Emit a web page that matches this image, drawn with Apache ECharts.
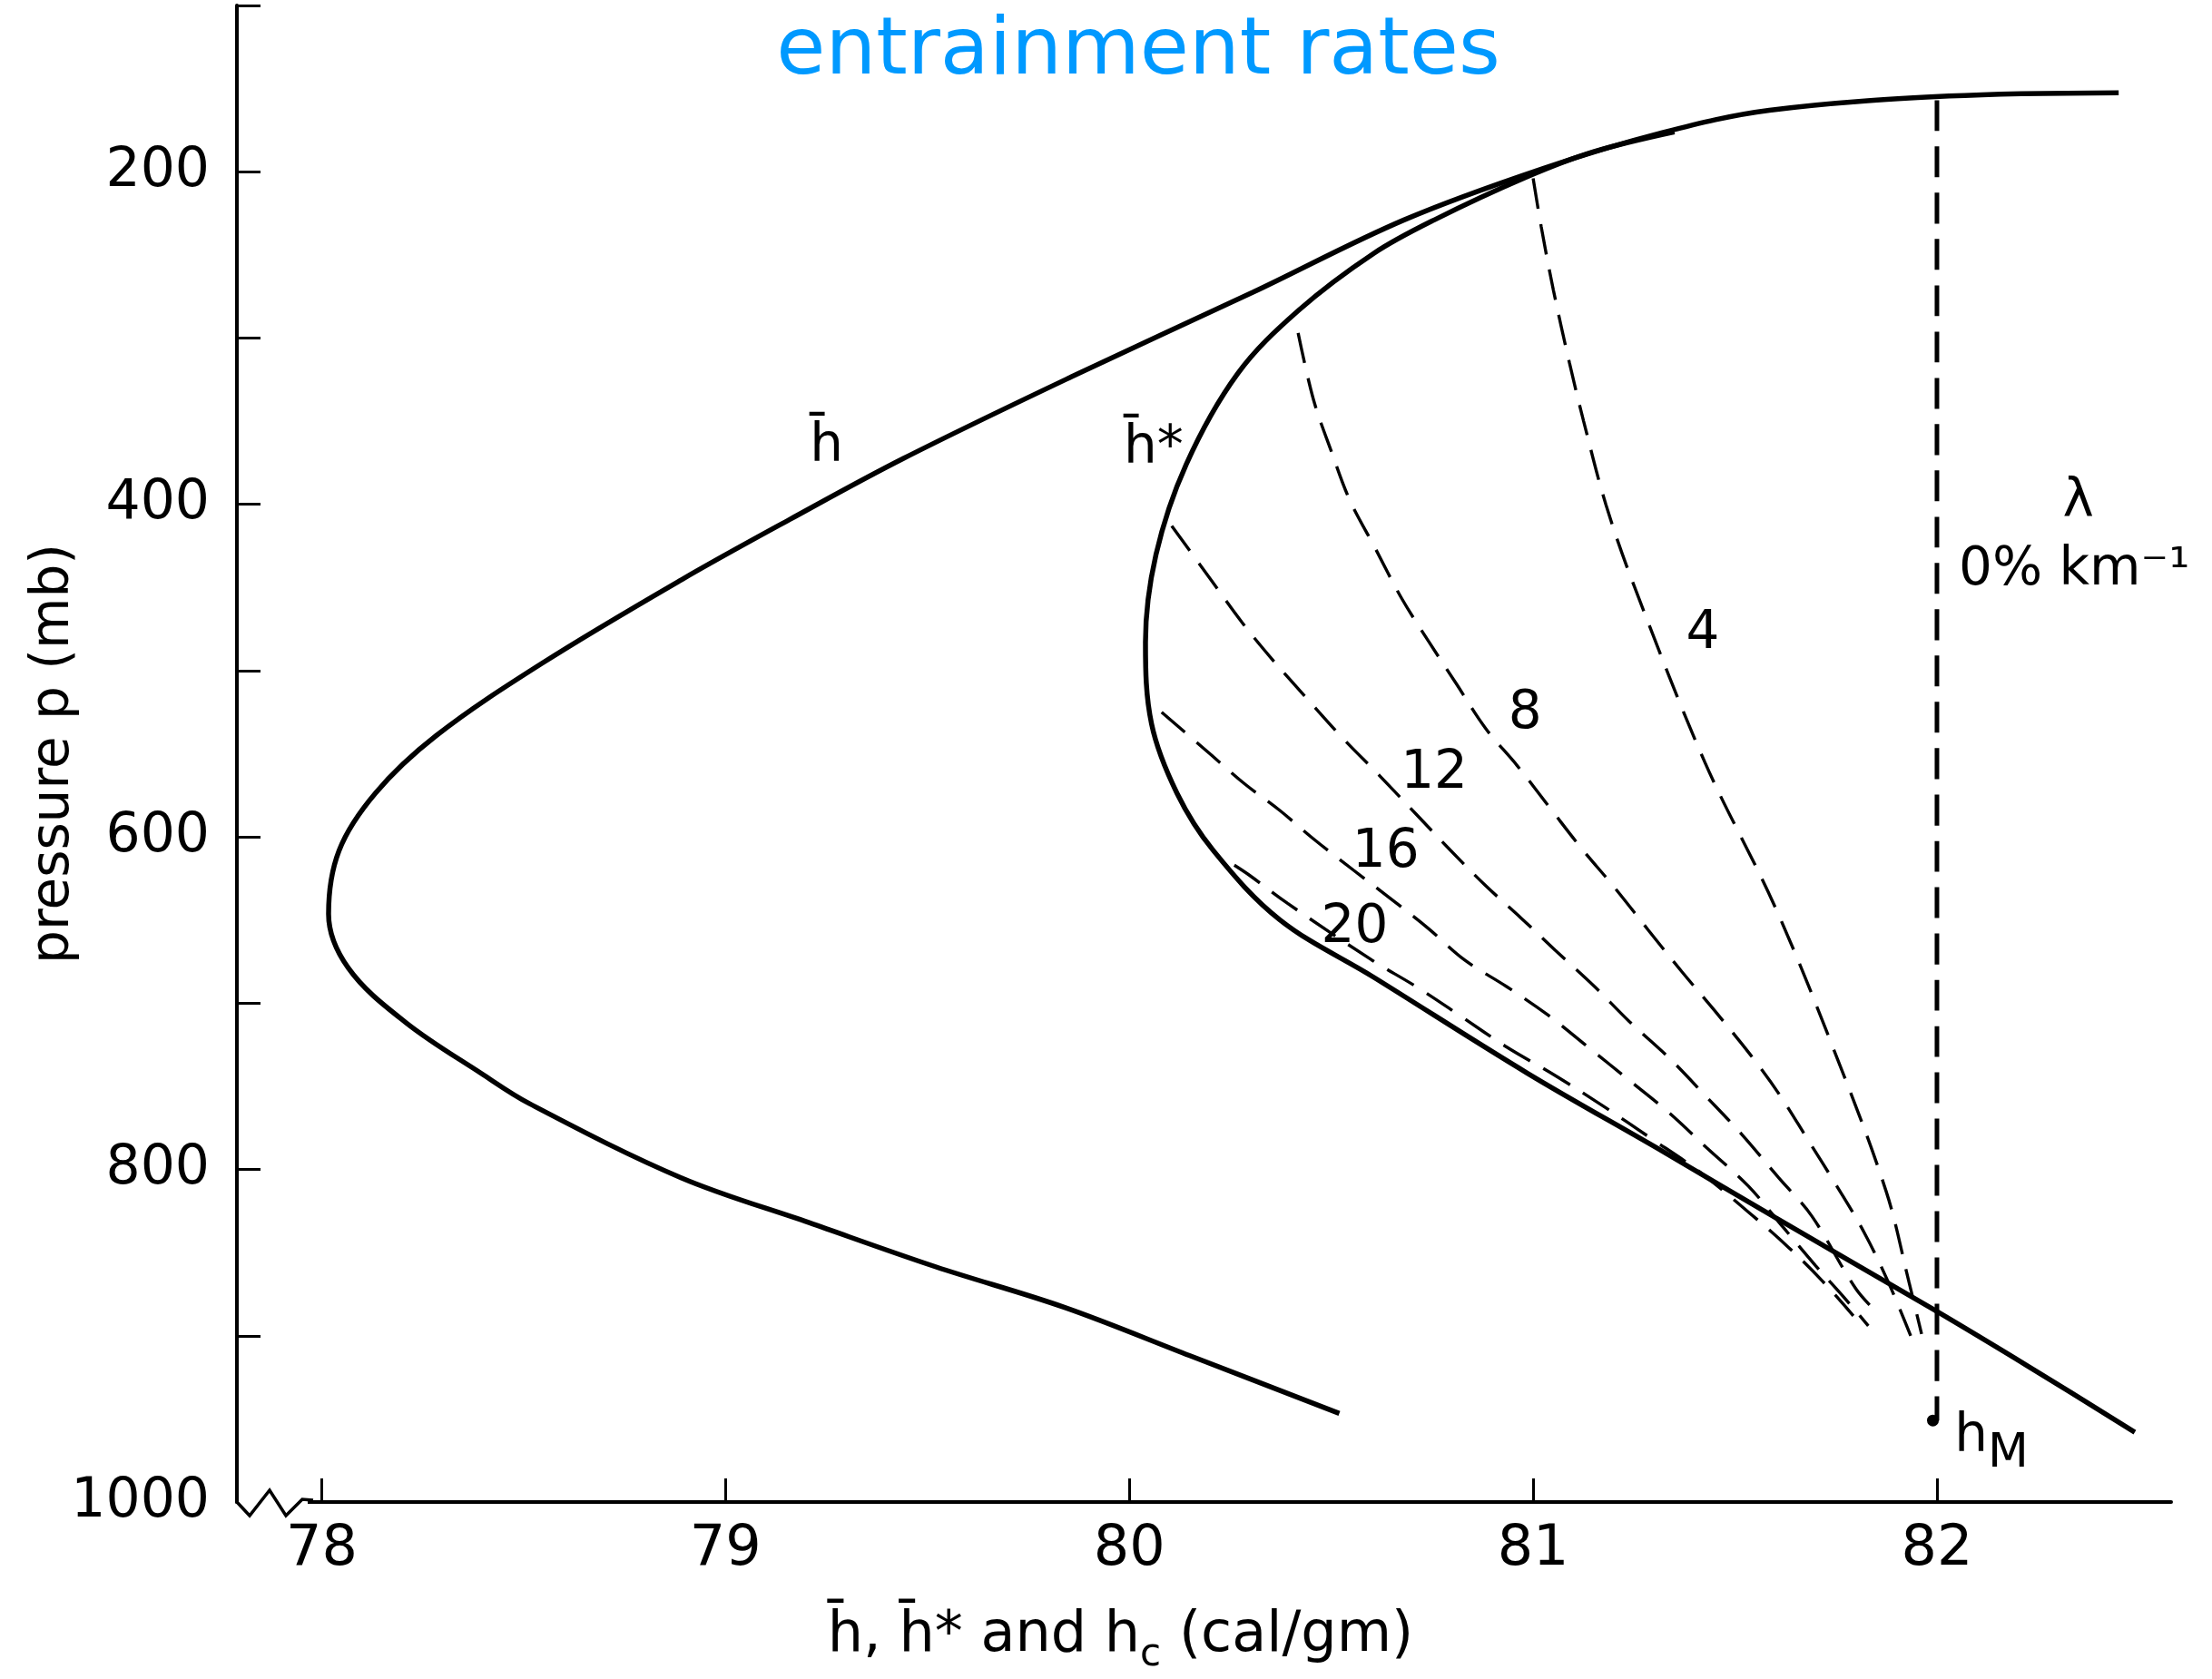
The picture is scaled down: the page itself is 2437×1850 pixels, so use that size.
<!DOCTYPE html>
<html lang="en">
<head>
    <meta charset="UTF-8">
    <title>entrainment rates</title>
    <style>
        html, body { margin: 0; padding: 0; background: #fff; }
        #chart { width: 2437px; height: 1850px; }
    </style>
    <script src="https://cdn.jsdelivr.net/npm/echarts@6/dist/echarts.min.js"></script>
</head>
<body>
<div id="chart"></div>
<script>
    // tick values
    var xTicks = [78, 79, 80, 81, 82];
    var yLabelTicks = [200, 400, 600, 800, 1000];

    // h-bar (solid), [h, p]
    var hBar = [[82.45, 152.5], [82.03, 154.5], [81.585, 163], [81.32, 176.5], [81.025, 198], [80.68, 229],
        [80.306, 272.5], [79.856, 323.4], [79.44, 372.5], [79.16, 409], [78.89, 445.5], [78.545, 495.7],
        [78.283, 539.2], [78.133, 573.7], [78.043, 608.2], [78.017, 646.3], [78.066, 678.9], [78.208, 711.6],
        [78.396, 742.4], [78.515, 760.5], [78.89, 805], [79.207, 832], [79.52, 858.5], [79.84, 883],
        [80.15, 912], [80.52, 946.7]];

    // h-bar* (solid)
    var hStar = [[81.35, 176], [81.15, 188], [80.98, 203.6], [80.755, 229], [80.606, 249], [80.419, 283.4],
        [80.268, 321.5], [80.141, 375.9], [80.066, 430.3], [80.04, 483], [80.055, 532], [80.118, 573.7],
        [80.208, 608.2], [80.373, 649.9], [80.605, 684.4], [80.985, 742], [81.32, 789], [81.6, 829],
        [81.99, 884], [82.23, 919], [82.49, 958]];

    // hc for entrainment rates (dashed)
    var lambda0 = [[82.0, 157], [82.0, 951]];
    var lambda4 = [[81.0, 204], [81.02, 233], [81.05, 271], [81.09, 315], [81.125, 350], [81.18, 400],
        [81.25, 449], [81.425, 555], [81.597, 641], [81.743, 727], [81.874, 813], [81.931, 868], [81.962, 899]];
    var lambda8 = [[80.418, 297], [80.456, 337], [80.5, 368], [80.545, 397], [80.608, 426],
        [80.673, 456], [80.74, 482], [80.81, 508], [80.883, 535], [80.96, 557], [81.043, 583], [81.12, 607],
        [81.2, 630], [81.285, 656], [81.368, 681], [81.458, 707], [81.538, 731], [81.61, 755], [81.68, 782],
        [81.752, 810], [81.82, 838], [81.88, 868], [81.935, 900]];
    var lambda12 = [[80.105, 413], [80.204, 446], [80.279, 471], [80.353, 493], [80.437, 516],
        [80.53, 541], [80.619, 563], [80.709, 586], [80.795, 608], [80.881, 629], [80.971, 649], [81.054, 668],
        [81.152, 690], [81.238, 711], [81.337, 733], [81.428, 756], [81.517, 779], [81.608, 805], [81.69, 828],
        [81.8, 872], [81.86, 888]];
    var lambda16 = [[80.08, 525], [80.204, 551], [80.285, 568], [80.372, 584], [80.46, 602],
        [80.555, 620], [80.641, 636], [80.74, 655], [80.83, 674], [80.934, 690], [81.036, 707], [81.134, 726],
        [81.236, 746], [81.337, 766], [81.43, 787], [81.533, 810], [81.62, 835], [81.7, 858], [81.77, 877],
        [81.83, 894]];
    var lambda20 = [[80.26, 617], [80.297, 623], [80.392, 640], [80.6, 674], [80.71, 690], [80.822, 708],
        [80.932, 726], [81.058, 744], [81.174, 762], [81.29, 781], [81.41, 801], [81.535, 826], [81.633, 847],
        [81.716, 867], [81.793, 888]];

    // hM point
    var hM = [[81.99, 951]];

    // text on the curves [h, p, text]
    var curveLabels = [
        [79.25, 366, 'h\u0304'],
        [80.06, 367, 'h\u0304*'],
        [81.42, 478, '4'],
        [80.98, 526, '8'],
        [80.755, 562, '12'],
        [80.635, 610, '16'],
        [80.558, 655, '20'],
        [82.35, 399, '\u03bb'],
        [82.34, 440, '0% km\u207b\u00b9']
    ];
    var hMLabel = [[82.135, 961, '{h|h}{m|M}']];

    var font = 'DejaVu Sans';
    var chart = echarts.init(document.getElementById('chart'));

    function solid(name, data) {
        return {
            name: name, type: 'line', data: data, smooth: 0.35, symbol: 'none',
            lineStyle: {color: '#000', width: 5.5}, z: 3
        };
    }

    function dashed(name, data, w) {
        return {
            name: name, type: 'line', data: data, smooth: 0.35, symbol: 'none',
            lineStyle: {color: '#000', width: w || 3.4, type: [34, 17]}, z: 2
        };
    }

    var option = {
        animation: false,
        backgroundColor: '#fff',
        title: {
            text: 'entrainment rates',
            left: 1254,
            top: 14,
            padding: 0,
            textAlign: 'center',
            textStyle: {color: '#0099ff', fontFamily: font, fontSize: 88, fontWeight: 'normal'}
        },
        grid: {left: 261, top: 6, width: 2131, height: 1654, containLabel: false},
        xAxis: {
            type: 'value',
            min: 77.79,
            max: 82.58,
            name: '{t|h\u0304, h\u0304* and h}{s|c}{t| (cal/gm)}',
            nameLocation: 'middle',
            nameGap: 106,
            nameMoveOverlap: false,
            nameTextStyle: {
                padding: [0, 184, 0, 0],
                rich: {
                    t: {fontFamily: font, fontSize: 62, color: '#000', lineHeight: 84},
                    s: {fontFamily: font, fontSize: 42, color: '#000', lineHeight: 32, verticalAlign: 'bottom'}
                }
            },
            axisLine: {lineStyle: {color: '#000', width: 4}},
            axisTick: {inside: true, length: 26, customValues: xTicks, lineStyle: {color: '#000', width: 3}},
            axisLabel: {customValues: xTicks, margin: 22, fontFamily: font, fontSize: 62, color: '#000'},
            splitLine: {show: false}
        },
        yAxis: {
            type: 'value',
            inverse: true,
            min: 100,
            max: 1000,
            interval: 100,
            name: 'pressure p (mb)',
            nameLocation: 'middle',
            nameGap: 172,
            nameMoveOverlap: false,
            nameTextStyle: {fontFamily: font, fontSize: 58, color: '#000'},
            axisLine: {lineStyle: {color: '#000', width: 4}},
            axisTick: {inside: true, length: 26, lineStyle: {color: '#000', width: 3}},
            axisLabel: {
                margin: 30, fontFamily: font, fontSize: 60, color: '#000',
                formatter: function (v) { return yLabelTicks.indexOf(v) >= 0 ? String(v) : ''; }
            },
            splitLine: {show: false}
        },
        series: [
            solid('hbar', hBar),
            solid('hstar', hStar),
            dashed('0', lambda0, 5),
            dashed('4', lambda4),
            dashed('8', lambda8),
            dashed('12', lambda12),
            dashed('16', lambda16),
            dashed('20', lambda20),
            {
                name: 'hM', type: 'scatter', data: hM, symbolSize: 13,
                itemStyle: {color: '#000', opacity: 1}, z: 4
            },
            {
                name: 'labels', type: 'scatter', data: curveLabels, symbolSize: 0,
                itemStyle: {opacity: 1},
                label: {
                    show: true, position: 'inside', fontFamily: font, fontSize: 58, color: '#000',
                    formatter: function (p) { return p.data[2]; }
                },
                z: 5
            },
            {
                name: 'hMlabel', type: 'scatter', data: hMLabel, symbolSize: 0,
                itemStyle: {opacity: 1},
                label: {
                    show: true, position: 'inside', color: '#000',
                    formatter: function (p) { return p.data[2]; },
                    rich: {
                        h: {fontFamily: font, fontSize: 58, lineHeight: 90, color: '#000'},
                        m: {fontFamily: font, fontSize: 52, lineHeight: 40, verticalAlign: 'bottom', color: '#000'}
                    }
                },
                z: 5
            }
        ]
    };
    chart.setOption(option);

    // axis break mark at the origin
    var corner = chart.convertToPixel({gridIndex: 0}, [77.79, 1000]);
    var cx = corner[0], cy = corner[1];
    chart.setOption({
        graphic: [
            {type: 'rect', shape: {x: cx + 2, y: cy - 6, width: 76, height: 12}, style: {fill: '#fff'}, z: 100},
            {
                type: 'polyline', z: 101,
                shape: {points: [[cx, cy], [cx + 14, cy + 15], [cx + 36, cy - 13], [cx + 54, cy + 15], [cx + 72, cy - 3], [cx + 84, cy - 2]]},
                style: {stroke: '#000', lineWidth: 3.5, fill: null}
            }
        ]
    });
</script>
</body>
</html>
